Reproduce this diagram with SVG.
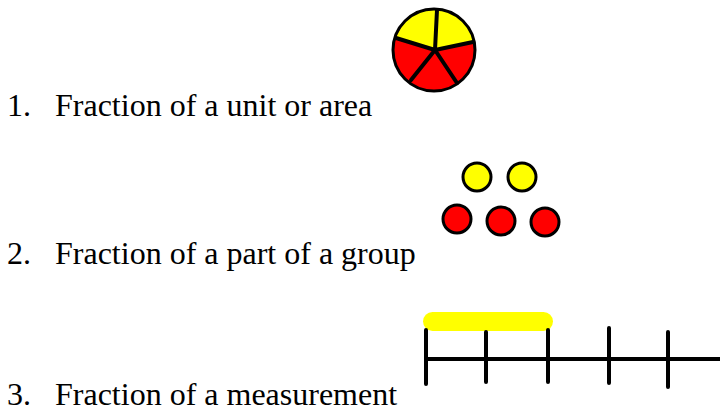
<svg xmlns="http://www.w3.org/2000/svg" width="720" height="412" viewBox="0 0 720 412">
<style>
.o{stroke:#000;stroke-width:3;stroke-linejoin:round}
.y{fill:#ffff00}
.r{fill:#ff0000}
.k{stroke:#000;stroke-width:4;stroke-linecap:round;fill:none}
</style>
<rect width="720" height="412" fill="#fff"/>
<g font-family="'Liberation Serif', 'Times New Roman', serif" font-size="32" fill="#000">
<g id="label1"><text x="7" y="116">1.</text><text x="55" y="116">Fraction of a unit or area</text></g>
<g id="label2"><text x="7" y="264">2.</text><text x="55" y="264">Fraction of a part of a group</text></g>
<g id="label3"><text x="7" y="405">3.</text><text x="55" y="405">Fraction of a measurement</text></g>
</g>
<g id="pie">
<circle cx="434" cy="50" r="41" class="r"/>
<path class="y" d="M435 50 L396 38 A41 41 0 0 1 437 9 Z"/>
<path class="y" d="M435 50 L437 9 A41 41 0 0 1 474 41 Z"/>
<circle cx="434" cy="50" r="41" fill="none" class="o"/>
<path class="k" d="M396 38 L435 50 L437 10 M435 50 L473 42 M435 50 L411 80 M435 50 L457 83"/>
</g>
<g id="group">
<circle class="y o" cx="477" cy="177" r="14"/>
<circle class="y o" cx="522" cy="177" r="14"/>
<circle class="r o" cx="457" cy="219" r="14"/>
<circle class="r o" cx="501" cy="221" r="14"/>
<circle class="r o" cx="545" cy="222" r="14"/>
</g>
<g id="measure">
<rect class="y" x="423" y="312" width="130" height="19" rx="9.5"/>
<path class="k" d="M426 359 H722 M426 330 V384 M486 332 V382 M548 330 V382 M609 328 V383 M668 332 V387"/>
</g>
</svg>
